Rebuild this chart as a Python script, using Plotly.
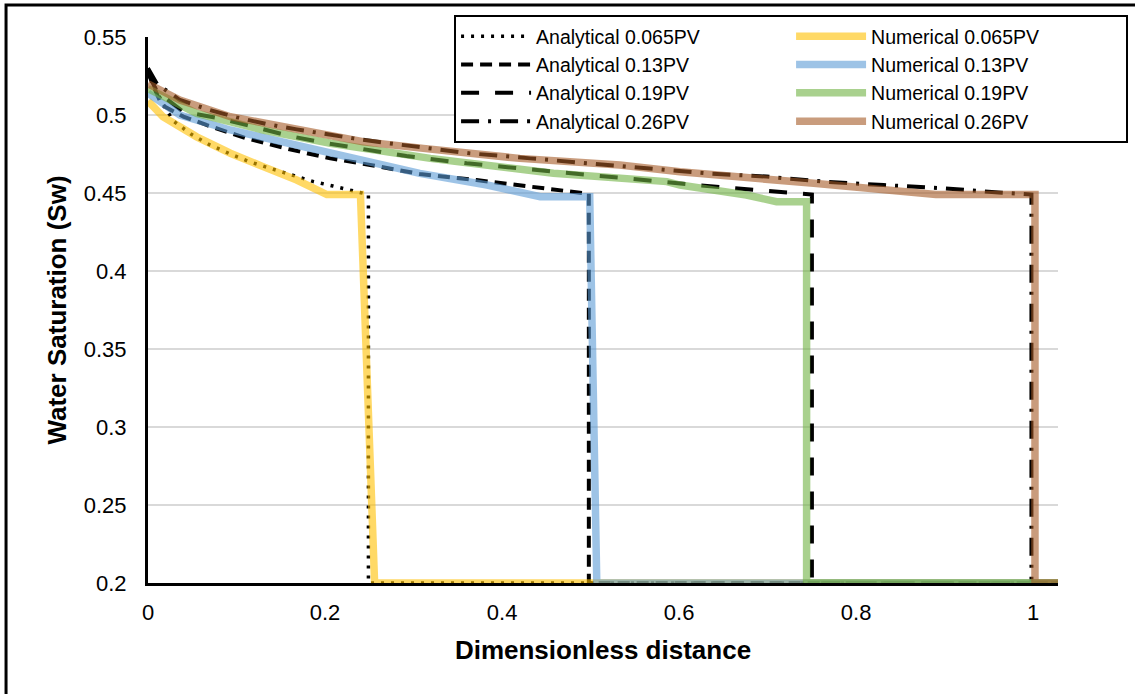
import plotly.graph_objects as go

# ---------------- data ----------------
a065_x = [0, 0.005, 0.01, 0.02, 0.029, 0.049, 0.070, 0.093, 0.115, 0.138, 0.164, 0.187, 0.209, 0.236, 0.249, 0.249, 1.03]
a065_y = [0.530, 0.522, 0.515, 0.504, 0.496, 0.4876, 0.4808, 0.475, 0.470, 0.4658, 0.4611, 0.4573, 0.4545, 0.4508, 0.449, 0.2, 0.2]

a13_x = [0, 0.005, 0.0155, 0.04, 0.066, 0.1115, 0.160, 0.206, 0.251, 0.307, 0.371, 0.420, 0.469, 0.498, 0.498, 1.03]
a13_y = [0.528, 0.520, 0.5064, 0.499, 0.4936, 0.485, 0.478, 0.4722, 0.468, 0.4622, 0.4583, 0.4551, 0.4519, 0.4495, 0.2, 0.2]

a19_x = [0, 0.01, 0.04, 0.081, 0.119, 0.160, 0.202, 0.243, 0.292, 0.36, 0.45, 0.54, 0.62, 0.663, 0.706, 0.744, 0.75, 0.75, 1.03]
a19_y = [0.527, 0.515, 0.502, 0.4979, 0.4925, 0.4865, 0.4819, 0.478, 0.4737, 0.469, 0.464, 0.459, 0.4551, 0.453, 0.4508, 0.4487, 0.449, 0.2, 0.2]

a26_x = [0, 0.01, 0.036, 0.07, 0.10, 0.134, 0.168, 0.202, 0.232, 0.266, 0.304, 0.364, 0.432, 0.496, 0.567, 0.631, 0.699, 0.763, 0.831, 0.898, 0.965, 0.998, 0.998, 1.03]
a26_y = [0.530, 0.520, 0.5096, 0.5032, 0.4985, 0.4942, 0.4908, 0.4876, 0.485, 0.4823, 0.4797, 0.4754, 0.4722, 0.469, 0.4658, 0.4626, 0.4605, 0.4573, 0.4551, 0.453, 0.4502, 0.449, 0.2, 0.2]

n065_x = [0, 0.017, 0.055, 0.093, 0.130, 0.168, 0.202, 0.240, 0.256, 1.03]
n065_y = [0.509, 0.4989, 0.486, 0.4755, 0.4669, 0.4583, 0.449, 0.449, 0.2, 0.2]

n13_x = [0, 0.036, 0.093, 0.168, 0.243, 0.307, 0.383, 0.443, 0.499, 0.507, 1.03]
n13_y = [0.514, 0.500, 0.4904, 0.4808, 0.4712, 0.4626, 0.4551, 0.4476, 0.4476, 0.2, 0.2]

n19_x = [0, 0.055, 0.130, 0.206, 0.319, 0.458, 0.586, 0.601, 0.676, 0.710, 0.744, 0.744, 1.03]
n19_y = [0.517, 0.501, 0.4904, 0.4819, 0.4722, 0.4626, 0.4573, 0.4551, 0.4487, 0.4444, 0.4444, 0.2, 0.2]

n26_x = [0, 0.036, 0.093, 0.168, 0.243, 0.311, 0.42, 0.533, 0.601, 0.752, 0.89, 1.002, 1.002, 1.03]
n26_y = [0.520, 0.5096, 0.4989, 0.4904, 0.4829, 0.4786, 0.4722, 0.468, 0.4636, 0.4562, 0.449, 0.449, 0.2, 0.2]

x_ticks = [0, 0.2, 0.4, 0.6, 0.8, 1]
x_ticklabels = ["0", "0.2", "0.4", "0.6", "0.8", "1"]
y_ticks = [0.2, 0.25, 0.3, 0.35, 0.4, 0.45, 0.5, 0.55]
y_ticklabels = ["0.2", "0.25", "0.3", "0.35", "0.4", "0.45", "0.5", "0.55"]

FONT = "Arial, 'Liberation Sans', sans-serif"

analytical = [
    ("Analytical 0.065PV", a065_x, a065_y, "3px,7px", 3.5),
    ("Analytical 0.13PV", a13_x, a13_y, "12px,7px", 4),
    ("Analytical 0.19PV", a19_x, a19_y, "18px,16px", 4),
    ("Analytical 0.26PV", a26_x, a26_y, "18px,9px,3px,9px", 4),
]
numerical = [
    ("Numerical 0.065PV", n065_x, n065_y, "rgba(255,192,0,0.6)"),
    ("Numerical 0.13PV", n13_x, n13_y, "rgba(92,155,213,0.6)"),
    ("Numerical 0.19PV", n19_x, n19_y, "rgba(112,178,67,0.6)"),
    ("Numerical 0.26PV", n26_x, n26_y, "rgba(165,90,38,0.6)"),
]

fig = go.Figure()
for i, (name, xs, ys, dash, w) in enumerate(analytical):
    fig.add_trace(go.Scatter(x=xs, y=ys, name=name, mode="lines",
                             line=dict(color="black", width=w, dash=dash),
                             legendrank=2 * i + 1))
for i, (name, xs, ys, col) in enumerate(numerical):
    fig.add_trace(go.Scatter(x=xs, y=ys, name=name, mode="lines",
                             line=dict(color=col, width=7.5),
                             legendrank=2 * i + 2))

fig.update_layout(
    width=1135, height=694,
    paper_bgcolor="white", plot_bgcolor="white",
    margin=dict(l=148, r=77, t=37, b=111, autoexpand=False),
    font=dict(family=FONT, size=21, color="black"),
    showlegend=True,
    legend=dict(
        orientation="h", x=1.077, xanchor="right", y=1.0403, yanchor="top",
        bgcolor="white", bordercolor="black", borderwidth=2,
        font=dict(family=FONT, size=19.5, color="black"),
        entrywidth=250, entrywidthmode="pixels", itemwidth=70,
        tracegroupgap=0, traceorder="normal",
    ),
    xaxis=dict(
        range=[0, 1.028], tickvals=x_ticks, ticktext=x_ticklabels,
        showgrid=False, zeroline=False,
        showline=True, linecolor="black", linewidth=3,
        ticks="", ticklabelstandoff=8,
        tickfont=dict(size=22),
        title=dict(text="<b>Dimensionless distance</b>", font=dict(size=26), standoff=17),
    ),
    yaxis=dict(
        range=[0.2, 0.55], tickvals=y_ticks, ticktext=y_ticklabels,
        showgrid=True, gridcolor="#D9D9D9", gridwidth=1.5, zeroline=False,
        showline=True, linecolor="black", linewidth=3,
        ticks="", ticklabelstandoff=14,
        tickfont=dict(size=22),
        title=dict(text="<b>Water Saturation (Sw)</b>", font=dict(size=26), standoff=10),
    ),
    shapes=[dict(type="rect", xref="paper", yref="paper",
                 x0=-0.156, x1=1.3, y0=-0.5, y1=1.0586,
                 line=dict(color="black", width=3), fillcolor="rgba(0,0,0,0)",
                 layer="below")],
)

fig.write_html("out.html", config={"displayModeBar": False},
               post_script="document.body.style.margin='0px';")
